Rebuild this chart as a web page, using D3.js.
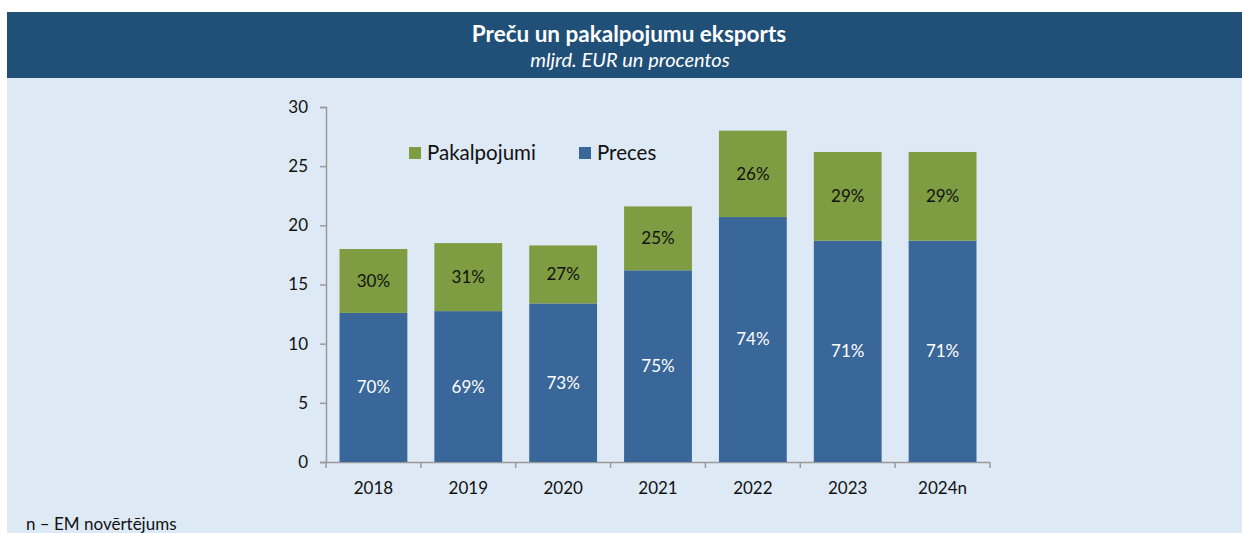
<!DOCTYPE html>
<html>
<head>
<meta charset="utf-8">
<script src="https://cdn.jsdelivr.net/npm/d3@7"></script>
<style>
  body { margin: 0; background: #fff; }
  svg { display: block; font-family: Lato, "Open Sans", sans-serif; }
</style>
</head>
<body>
<svg id="chart" width="1242" height="533"></svg>
<script>
// data (mljrd. EUR)
const years = ["2018", "2019", "2020", "2021", "2022", "2023", "2024n"];
const preces = [12.6, 12.75, 13.4, 16.2, 20.7, 18.7, 18.7];
const pakalpojumi = [5.4, 5.75, 4.9, 5.4, 7.3, 7.5, 7.5];
const precesPct = ["70%", "69%", "73%", "75%", "74%", "71%", "71%"];
const pakalpojumiPct = ["30%", "31%", "27%", "25%", "26%", "29%", "29%"];
const yTicks = [0, 5, 10, 15, 20, 25, 30];

const svg = d3.select("#chart");
const width = 1242, height = 533;

// panel background + title band
svg.append("rect")
    .attr("x", 7).attr("y", 12)
    .attr("width", width - 7).attr("height", height - 12)
    .attr("fill", "#dde9f5");
svg.append("rect")
    .attr("x", 7).attr("y", 12)
    .attr("width", width - 7).attr("height", 66)
    .attr("fill", "#204f78");

svg.append("text")
    .attr("x", 629).attr("y", 42)
    .attr("text-anchor", "middle")
    .attr("fill", "#fff")
    .attr("font-size", "22.5px")
    .attr("font-weight", "bold")
    .text("Preču un pakalpojumu eksports");
svg.append("text")
    .attr("x", 630).attr("y", 67)
    .attr("text-anchor", "middle")
    .attr("fill", "#fff")
    .attr("font-size", "20px")
    .attr("font-style", "italic")
    .text("mljrd. EUR un procentos");

let padding = { top: 107, bottom: 462, left: 326, right: 990 };

let xScale = d3.scaleBand()
    .domain(years)
    .range([padding.left, padding.right])
    .paddingInner(0.285)
    .paddingOuter(0.1425);

let yScale = d3.scaleLinear()
    .domain([0, 30])
    .range([padding.bottom, padding.top]);

// axes
let yAxis = d3.axisLeft(yScale)
    .tickValues(yTicks)
    .tickSize(6)
    .tickPadding(12);
let gy = svg.append("g")
    .attr("transform", "translate(" + padding.left + ",0)")
    .call(yAxis);

let xAxis = d3.axisBottom(xScale).tickSize(0).tickPadding(20);
let gx = svg.append("g")
    .attr("transform", "translate(0," + padding.bottom + ")")
    .call(xAxis);

// category boundary ticks on the x axis
let step = xScale.step();
gx.selectAll(".bound")
    .data(d3.range(years.length + 1))
    .enter()
    .append("line")
    .classed("bound", true)
    .attr("x1", i => padding.left + i * step)
    .attr("x2", i => padding.left + i * step)
    .attr("y1", 0).attr("y2", 6)
    .attr("stroke", "#9a9a9a")
    .attr("stroke-width", 1.5);

[gx, gy].forEach(g => {
    g.select(".domain").attr("stroke", "#9a9a9a").attr("stroke-width", 1.5);
    g.selectAll(".tick line").attr("stroke", "#9a9a9a").attr("stroke-width", 1.5);
    g.selectAll(".tick text")
        .attr("fill", "#111")
        .attr("font-size", "17px")
        .attr("font-family", "Lato, sans-serif");
});
gx.select(".domain").attr("d", "M" + padding.left + ",0.5H" + padding.right);

// bars
let rows = years.map((y, i) => ({
    year: y, preces: preces[i], pak: pakalpojumi[i],
    pp: precesPct[i], kp: pakalpojumiPct[i]
}));

let bars = svg.append("g");
bars.selectAll(".preces")
    .data(rows)
    .enter()
    .append("rect")
    .classed("preces", true)
    .attr("x", d => xScale(d.year))
    .attr("width", xScale.bandwidth())
    .attr("y", d => yScale(d.preces))
    .attr("height", d => yScale(0) - yScale(d.preces))
    .attr("fill", "#3a6799");

bars.selectAll(".pak")
    .data(rows)
    .enter()
    .append("rect")
    .classed("pak", true)
    .attr("x", d => xScale(d.year))
    .attr("width", xScale.bandwidth())
    .attr("y", d => yScale(d.preces + d.pak))
    .attr("height", d => yScale(d.preces) - yScale(d.preces + d.pak))
    .attr("fill", "#7e9c42");

// percentage labels
bars.selectAll(".pp")
    .data(rows)
    .enter()
    .append("text")
    .attr("x", d => xScale(d.year) + xScale.bandwidth() / 2)
    .attr("y", d => yScale(d.preces / 2))
    .attr("dy", "0.35em")
    .attr("text-anchor", "middle")
    .attr("fill", "#fff")
    .attr("font-size", "17px")
    .text(d => d.pp);

bars.selectAll(".kp")
    .data(rows)
    .enter()
    .append("text")
    .attr("x", d => xScale(d.year) + xScale.bandwidth() / 2)
    .attr("y", d => yScale(d.preces + d.pak / 2))
    .attr("dy", "0.35em")
    .attr("text-anchor", "middle")
    .attr("fill", "#111")
    .attr("font-size", "17px")
    .text(d => d.kp);

// legend
let legend = [
    { name: "Pakalpojumi", color: "#7e9c42", x: 409 },
    { name: "Preces", color: "#3a6799", x: 579 }
];
let lg = svg.append("g").selectAll("g")
    .data(legend)
    .enter()
    .append("g")
    .attr("transform", d => "translate(" + d.x + ",147)");
lg.append("rect")
    .attr("width", 12).attr("height", 12)
    .attr("fill", d => d.color);
lg.append("text")
    .attr("x", 18).attr("y", 13)
    .attr("font-size", "20.5px")
    .attr("fill", "#111")
    .text(d => d.name);

// footnote
svg.append("text")
    .attr("x", 26).attr("y", 530)
    .attr("font-size", "17px")
    .attr("fill", "#111")
    .text("n – EM novērtējums");
</script>
</body>
</html>
